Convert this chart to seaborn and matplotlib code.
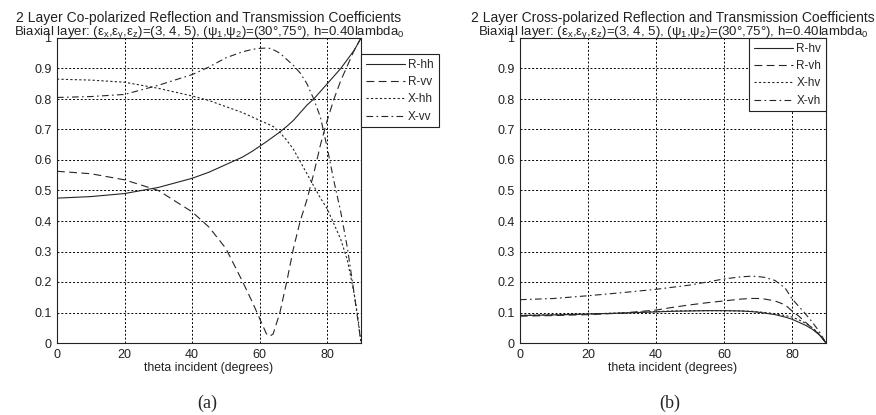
# 2-layer biaxial slab: co- and cross-polarized reflection / transmission coefficients
import numpy as np
import pandas as pd
import seaborn as sns
import matplotlib.pyplot as plt

# ---- data ----
theta_a = [0, 10, 20, 30, 40, 45, 50, 55, 58, 60, 62, 63, 64, 66, 68, 70, 72, 74, 76, 78, 80, 82, 84, 86, 88, 89, 90]
r_hh = [0.475, 0.48, 0.49, 0.51, 0.54, 0.56, 0.585, 0.61, 0.63, 0.645, 0.66, 0.668, 0.676, 0.692, 0.71, 0.73,
        0.755, 0.78, 0.80, 0.825, 0.85, 0.875, 0.90, 0.93, 0.96, 0.98, 1.0]
r_vv = [0.563, 0.555, 0.535, 0.50, 0.43, 0.38, 0.31, 0.20, 0.13, 0.08, 0.03, 0.022, 0.03, 0.10, 0.20, 0.31,
        0.40, 0.47, 0.555, 0.65, 0.73, 0.80, 0.86, 0.91, 0.96, 0.98, 1.0]
x_hh = [0.865, 0.862, 0.855, 0.835, 0.81, 0.795, 0.775, 0.755, 0.74, 0.73, 0.72, 0.715, 0.71, 0.69, 0.665, 0.635,
        0.595, 0.555, 0.515, 0.475, 0.44, 0.39, 0.34, 0.27, 0.16, 0.09, 0.0]
x_vv = [0.805, 0.808, 0.815, 0.845, 0.88, 0.905, 0.935, 0.955, 0.963, 0.966, 0.967, 0.966, 0.962, 0.95, 0.93, 0.91,
        0.885, 0.85, 0.80, 0.74, 0.64, 0.53, 0.43, 0.31, 0.16, 0.08, 0.0]

theta_b = [0, 10, 20, 30, 40, 45, 50, 55, 60, 65, 68, 70, 72, 75, 78, 80, 82, 84, 86, 88, 90]
r_hv = [0.090, 0.092, 0.095, 0.098, 0.102, 0.104, 0.105, 0.106, 0.106, 0.105, 0.103, 0.101, 0.098, 0.093, 0.085,
        0.078, 0.068, 0.058, 0.045, 0.027, 0.0]
r_vh = [0.088, 0.090, 0.093, 0.098, 0.108, 0.117, 0.125, 0.132, 0.138, 0.144, 0.146, 0.146, 0.144, 0.138, 0.125,
        0.105, 0.088, 0.068, 0.048, 0.028, 0.0]
x_hv = [0.091, 0.093, 0.095, 0.099, 0.103, 0.105, 0.106, 0.106, 0.106, 0.105, 0.104, 0.102, 0.100, 0.096, 0.090,
        0.085, 0.076, 0.065, 0.050, 0.030, 0.0]
x_vh = [0.142, 0.146, 0.155, 0.165, 0.176, 0.183, 0.190, 0.200, 0.210, 0.217, 0.219, 0.218, 0.215, 0.205, 0.180,
        0.145, 0.120, 0.095, 0.068, 0.038, 0.0]

labels_a = ['R-hh', 'R-vv', 'X-hh', 'X-vv']
labels_b = ['R-hv', 'R-vh', 'X-hv', 'X-vh']
styles = ['-', (0, (7, 4)), (0, (2, 2)), (0, (6, 3, 1.5, 3))]

titles = ['2 Layer Co-polarized Reflection and Transmission Coefficients',
          '2 Layer Cross-polarized Reflection and Transmission Coefficients']
subtitle = (r'Biaxial layer: (ε$_\mathrm{x}$,ε$_\mathrm{y}$,ε$_\mathrm{z}$)=(3, 4, 5), '
            r'(ψ$_\mathrm{1}$,ψ$_\mathrm{2}$)=(30°,75°), h=0.40lambda$_\mathrm{0}$')

sns.set_style('white')
plt.rcParams['font.family'] = ['Liberation Sans', 'DejaVu Sans']
plt.rcParams['mathtext.fontset'] = 'custom'
plt.rcParams['mathtext.rm'] = 'Liberation Sans'
plt.rcParams['mathtext.it'] = 'Liberation Sans:italic'

W, H = 876, 415
fig = plt.figure(figsize=(W / 100, H / 100), dpi=100, facecolor='white')
ax_a = fig.add_axes([57 / W, (H - 343) / H, 304 / W, 305 / H])
ax_b = fig.add_axes([520 / W, (H - 343) / H, 306 / W, 305 / H])


def draw(ax, theta, series, labels):
    for vals, lab, ls in zip(series, labels, styles):
        sns.lineplot(x=theta, y=vals, ax=ax, color='0.15', linewidth=0.8,
                     linestyle=ls, estimator=None, sort=False, label=lab)
    ax.set_xlim(0, 90)
    ax.set_ylim(0, 1)
    ax.set_xticks([0, 20, 40, 60, 80])
    ax.set_yticks(np.round(np.arange(0, 1.01, 0.1), 1))
    ax.set_yticklabels(['0', '0.1', '0.2', '0.3', '0.4', '0.5', '0.6', '0.7', '0.8', '0.9', '1'])
    ax.grid(True, color='black', linestyle=(0, (2, 2)), linewidth=0.7)
    ax.tick_params(direction='in', length=3, labelsize=9, colors='#222222', pad=4)
    for s in ax.spines.values():
        s.set_color('#222222')
        s.set_linewidth(0.8)
    ax.set_xlabel('theta incident (degrees)', fontsize=8.8, labelpad=1, color='#222222')
    ax.set_ylabel('')


draw(ax_a, theta_a, [r_hh, r_vv, x_hh, x_vv], labels_a)
draw(ax_b, theta_b, [r_hv, r_vh, x_hv, x_vh], labels_b)

leg_kw = dict(fontsize=8.5, frameon=True, fancybox=False, edgecolor='#222222', framealpha=1,
              handlelength=3.3, handletextpad=0.3, borderpad=0.4, labelspacing=0.45,
              borderaxespad=0, bbox_transform=fig.transFigure)
la = ax_a.legend(loc='upper left', bbox_to_anchor=(361 / W, 1 - 54 / H), **leg_kw)
lb = ax_b.legend(loc='upper right', bbox_to_anchor=(826 / W, 1 - 38 / H), **leg_kw)
for lg in (la, lb):
    lg.get_frame().set_linewidth(0.8)

for ax, t in zip((ax_a, ax_b), titles):
    pos = ax.get_position()
    cx = (pos.x0 + pos.x1) / 2
    fig.text(cx, 1 - 22 / H, t, ha='center', va='baseline', fontsize=10, color='#222222')
    fig.text(cx, 1 - 35 / H, subtitle, ha='center', va='baseline', fontsize=9.5, color='#222222')

fig.text(207 / W, 1 - 403 / H, '(a)', ha='center', va='center', fontsize=13,
         family='Liberation Serif')
fig.text(670 / W, 1 - 403 / H, '(b)', ha='center', va='center', fontsize=13,
         family='Liberation Serif')

fig.savefig('out.png', dpi=100)
